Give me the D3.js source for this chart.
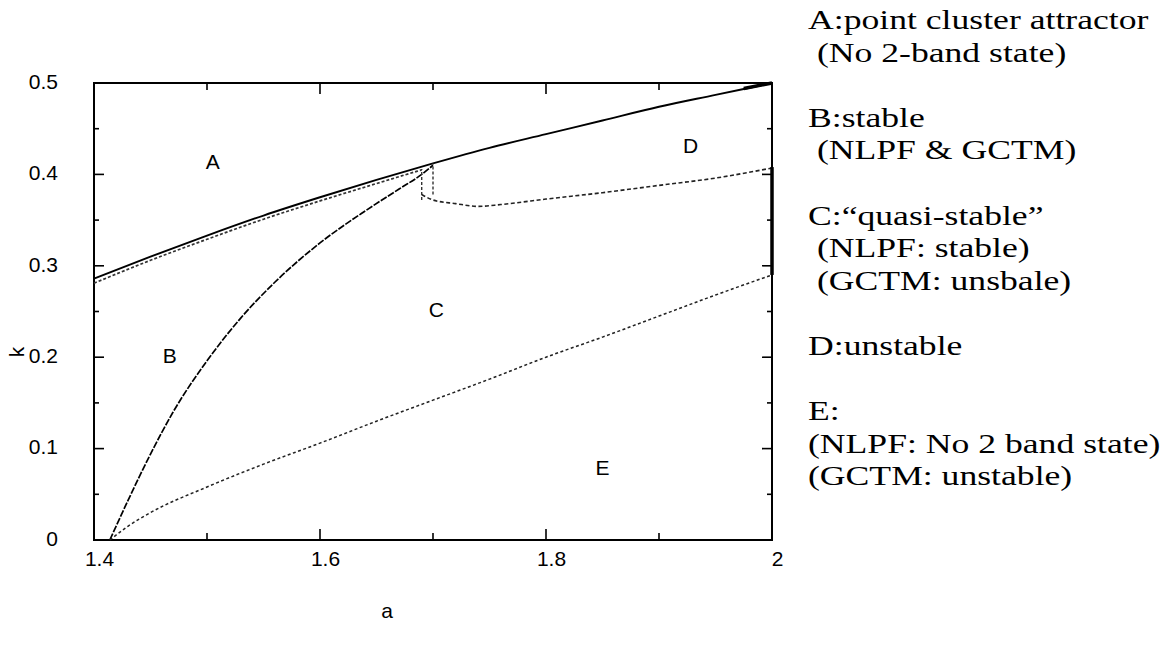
<!DOCTYPE html>
<html>
<head>
<meta charset="utf-8">
<script src="https://cdn.jsdelivr.net/npm/d3@7"></script>
<style>
  html, body { margin: 0; padding: 0; background: #fff; }
  svg { display: block; }
</style>
</head>
<body>
<svg id="chart" width="1169" height="648"></svg>
<script>
// Phase boundaries in the (a, k) plane
const upperSolid = [[1.40,0.286],[1.45,0.310],[1.50,0.333],[1.55,0.355],[1.60,0.375],[1.65,0.394],[1.70,0.412],[1.75,0.429],[1.80,0.444],[1.85,0.459],[1.90,0.474],[1.95,0.487],[2.00,0.500]];
const upperDotted = [[1.40,0.281],[1.45,0.306],[1.50,0.329],[1.55,0.351],[1.60,0.371],[1.65,0.390],[1.69,0.405]];
const bcBoundary = [[1.414,0.0],[1.43,0.043],[1.45,0.094],[1.47,0.140],[1.50,0.196],[1.53,0.243],[1.56,0.282],[1.60,0.325],[1.64,0.360],[1.67,0.384],[1.69,0.400],[1.70,0.410]];
const ceBoundary = [[1.414,0.0],[1.43,0.015],[1.45,0.030],[1.50,0.058],[1.55,0.083],[1.60,0.106],[1.65,0.130],[1.70,0.153],[1.75,0.176],[1.80,0.200],[1.85,0.222],[1.90,0.245],[1.95,0.268],[2.00,0.290]];
const cdBoundary = [[1.69,0.378],[1.70,0.372],[1.72,0.368],[1.74,0.365],[1.76,0.367],[1.80,0.373],[1.85,0.380],[1.90,0.388],[1.95,0.396],[2.00,0.407]];
const cuspLeft = [[1.690,0.372],[1.690,0.406]];
const cuspRight = [[1.700,0.378],[1.700,0.412]];
const rightEdge = [[2.0,0.290],[2.0,0.408]];
const topCorner = [[1.975,0.494],[2.0,0.500]];

const regionNames = ["A","B","C","D","E"];
const regionA = [1.505,1.467,1.703,1.928,1.850];
const regionK = [0.414,0.202,0.252,0.432,0.079];

const xTickValues = [1.4,1.6,1.8,2.0];
const xTickLabels = ["1.4","1.6","1.8","2"];
const xMinorTicks = [1.5,1.7,1.9];
const yTickValues = [0,0.1,0.2,0.3,0.4,0.5];
const yTickLabels = ["0","0.1","0.2","0.3","0.4","0.5"];
const yMinorTicks = [0.05,0.15,0.25,0.35,0.45];

const legendLines = [
  "A:point cluster attractor",
  " (No 2-band state)",
  "",
  "B:stable",
  " (NLPF & GCTM)",
  "",
  "C:\u201Cquasi-stable\u201D",
  " (NLPF: stable)",
  " (GCTM: unsbale)",
  "",
  "D:unstable",
  "",
  "E:",
  "(NLPF: No 2 band state)",
  "(GCTM: unstable)"
];

const svg = d3.select("#chart");
const L = 94, R = 772, T = 83, B = 540;
const x = d3.scaleLinear().domain([1.4, 2.0]).range([L, R]);
const y = d3.scaleLinear().domain([0, 0.5]).range([B, T]);

const axisFont = "'Liberation Sans', Arial, sans-serif";

// Tick marks on all four sides, pointing inward
const tickG = svg.append("g").attr("stroke", "#000").attr("stroke-width", 1.6);
function xTicks(vals, len) {
  vals.forEach(v => {
    tickG.append("line").attr("x1", x(v)).attr("x2", x(v)).attr("y1", B).attr("y2", B - len);
    tickG.append("line").attr("x1", x(v)).attr("x2", x(v)).attr("y1", T).attr("y2", T + len);
  });
}
function yTicks(vals, len) {
  vals.forEach(v => {
    tickG.append("line").attr("y1", y(v)).attr("y2", y(v)).attr("x1", L).attr("x2", L + len);
    tickG.append("line").attr("y1", y(v)).attr("y2", y(v)).attr("x1", R).attr("x2", R - len);
  });
}
xTicks(xTickValues, 11);
xTicks(xMinorTicks, 7);
yTicks(yTickValues, 10);
yTicks(yMinorTicks, 5);

// Tick labels through D3 axes (tick lines hidden; drawn above)
const xAxis = d3.axisBottom(x).tickValues(xTickValues).tickFormat((d, i) => xTickLabels[i]).tickSize(0).tickPadding(11);
const gx = svg.append("g").attr("transform", `translate(0,${B})`).call(xAxis);
gx.select(".domain").remove();
gx.attr("font-size", null).attr("font-family", null);
gx.selectAll("text").style("font-family", axisFont).style("font-size", "21px").attr("fill", "#000").attr("dx", 5);

const yAxis = d3.axisLeft(y).tickValues(yTickValues).tickFormat((d, i) => yTickLabels[i]).tickSize(0).tickPadding(36);
const gy = svg.append("g").attr("transform", `translate(${L},0)`).call(yAxis);
gy.select(".domain").remove();
gy.attr("font-size", null).attr("font-family", null);
gy.selectAll("text").style("font-family", axisFont).style("font-size", "21px").attr("fill", "#000").attr("dy", "0.25em");

// Frame
svg.append("rect").attr("x", L).attr("y", T).attr("width", R - L).attr("height", B - T)
  .attr("fill", "none").attr("stroke", "#000").attr("stroke-width", 2);

// Axis titles
svg.append("text").attr("x", 387).attr("y", 618).attr("text-anchor", "middle")
  .attr("font-family", axisFont).attr("font-size", 21).text("a");
svg.append("text").attr("transform", "translate(24,352) rotate(-90)").attr("text-anchor", "middle")
  .attr("font-family", axisFont).attr("font-size", 21).text("k");

// Boundaries
const line = d3.line().x(d => x(d[0])).y(d => y(d[1])).curve(d3.curveMonotoneX);
const lineStraight = d3.line().x(d => x(d[0])).y(d => y(d[1]));
const plot = svg.append("g").attr("fill", "none");

plot.append("path").datum(upperDotted).attr("d", line)
  .attr("stroke", "#333").attr("stroke-width", 1.7).attr("stroke-dasharray", "3,2");
plot.append("path").datum(upperSolid).attr("d", line)
  .attr("stroke", "#000").attr("stroke-width", 1.9);
plot.append("path").datum(bcBoundary).attr("d", line)
  .attr("stroke", "#000").attr("stroke-width", 1.7).attr("stroke-dasharray", "7,1.5");
plot.append("path").datum(ceBoundary).attr("d", line)
  .attr("stroke", "#222").attr("stroke-width", 1.5).attr("stroke-dasharray", "3,2.5");
plot.append("path").datum(cdBoundary).attr("d", line)
  .attr("stroke", "#222").attr("stroke-width", 1.6).attr("stroke-dasharray", "4,2.5");
[cuspLeft, cuspRight].forEach(seg => {
  plot.append("path").datum(seg).attr("d", lineStraight)
    .attr("stroke", "#333").attr("stroke-width", 1.4).attr("stroke-dasharray", "3,2");
});
plot.append("path").datum(rightEdge).attr("d", lineStraight)
  .attr("stroke", "#000").attr("stroke-width", 3.5);
plot.append("path").datum(topCorner).attr("d", lineStraight)
  .attr("stroke", "#000").attr("stroke-width", 3.5);

// Region labels
svg.append("g").selectAll("text").data(regionNames).join("text")
  .attr("x", (d, i) => x(regionA[i])).attr("y", (d, i) => y(regionK[i]))
  .attr("dy", "0.35em").attr("text-anchor", "middle")
  .attr("font-family", axisFont).attr("font-size", 21).text(d => d);

// Region descriptions
const legend = svg.append("g").attr("transform", "translate(808,0) scale(1.32,1)")
  .attr("font-family", "'Liberation Serif', 'Times New Roman', serif")
  .attr("font-size", 27).attr("fill", "#000");
legend.selectAll("text").data(legendLines).join("text")
  .attr("x", 0).attr("y", (d, i) => 29 + i * 32.6)
  .attr("xml:space", "preserve").style("white-space", "pre")
  .text(d => d);
</script>
</body>
</html>
